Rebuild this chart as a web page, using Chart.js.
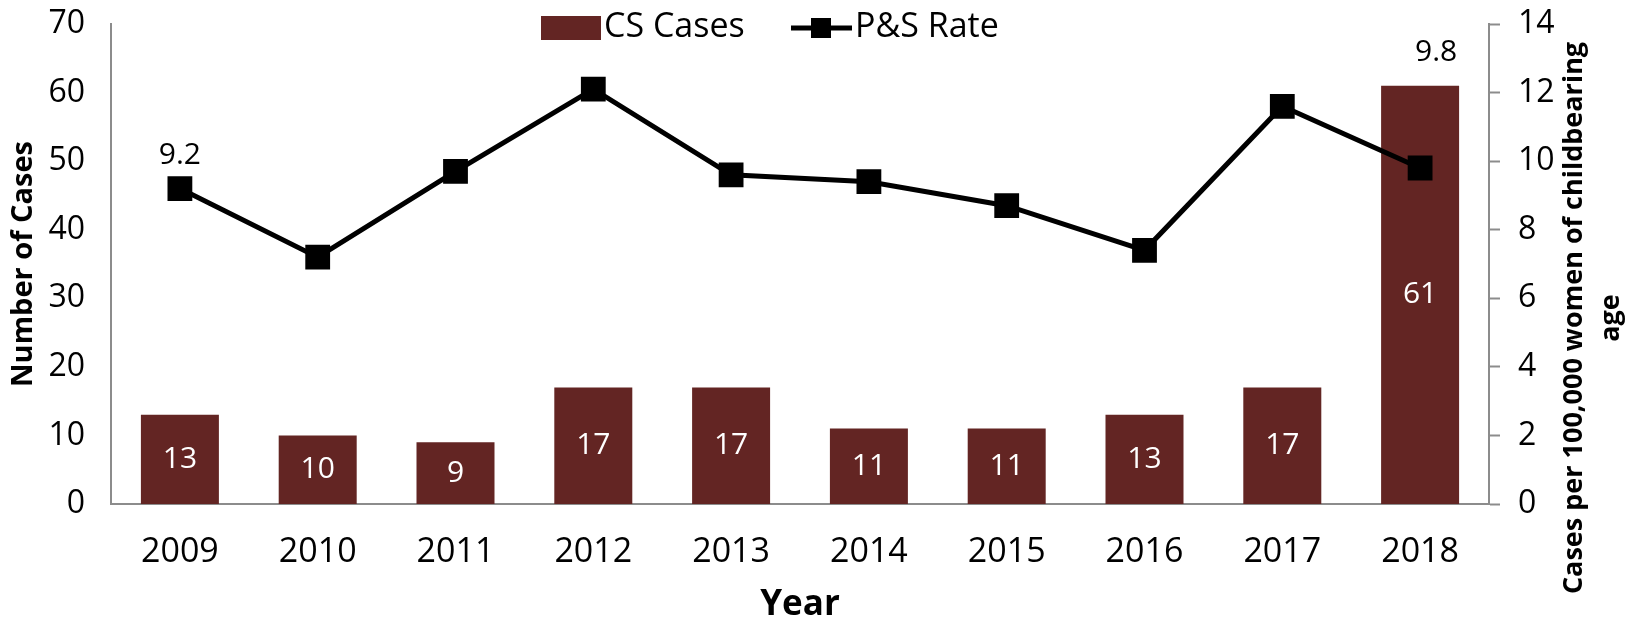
<!DOCTYPE html>
<html lang="en">
<head>
  <meta charset="UTF-8">
  <title>CS Cases and P&amp;S Rate</title>
  <script src="https://cdn.jsdelivr.net/npm/chart.js"></script>
  <style>
    body { margin: 0; background: #fff; }
    canvas { display: block; }
  </style>
</head>
<body>
  <canvas id="chartCanvas" width="1625" height="624"></canvas>

  <script>
    const years = ["2009", "2010", "2011", "2012", "2013", "2014", "2015", "2016", "2017", "2018"];
    const csCases = [13, 10, 9, 17, 17, 11, 11, 13, 17, 61];
    const psRate = [9.2, 7.2, 9.7, 12.1, 9.6, 9.4, 8.7, 7.4, 11.6, 9.8];
    const rateLabelShown = [0, 9]; // only first and last rate values are labelled
    const rightTitle = ["Cases per 100,000 women of childbearing", "age"];

    const FONT = "'Open Sans', sans-serif";
    const AXIS = "#8c8c8c";
    const BAR = "#632523";

    // values inside bars, and the two rate labels
    const labelPlugin = {
      id: "valueLabels",
      afterDatasetsDraw(chart) {
        const ctx = chart.ctx;
        const bars = chart.getDatasetMeta(0).data;
        const pts = chart.getDatasetMeta(1).data;
        ctx.save();
        ctx.font = "30px " + FONT;
        ctx.textAlign = "center";
        ctx.textBaseline = "middle";
        ctx.fillStyle = "#fff";
        bars.forEach((b, i) => {
          ctx.fillText(csCases[i], b.x, (b.y + b.base) / 2);
        });
        ctx.fillStyle = "#000";
        rateLabelShown.forEach(i => {
          const top = Math.min(pts[i].y, bars[i].y);
          ctx.fillText(psRate[i].toFixed(1), pts[i].x + (i === 9 ? 16 : 0), top - 33);
        });
        ctx.restore();
      },
      afterDraw(chart) {
        const ctx = chart.ctx;
        ctx.save();
        // right axis title, reading upward
        ctx.font = "bold 27px " + FONT;
        ctx.fillStyle = "#000";
        ctx.textAlign = "center";
        ctx.textBaseline = "middle";
        ctx.translate(1574, 318);
        ctx.rotate(-Math.PI / 2);
        ctx.fillText(rightTitle[0], 0, 0);
        ctx.fillText(rightTitle[1], 0, 37);
        ctx.restore();

        // legend
        ctx.save();
        ctx.font = "34px " + FONT;
        ctx.textBaseline = "middle";
        ctx.fillStyle = BAR;
        ctx.fillRect(541, 16, 60, 24);
        ctx.fillStyle = "#000";
        ctx.fillText(chart.data.datasets[0].label, 604, 27);
        ctx.strokeStyle = "#000";
        ctx.lineWidth = 5;
        ctx.beginPath();
        ctx.moveTo(791, 28);
        ctx.lineTo(852, 28);
        ctx.stroke();
        ctx.fillRect(811, 18, 20, 20);
        ctx.fillText(chart.data.datasets[1].label, 855, 27);
        ctx.restore();
      }
    };

    new Chart(document.getElementById("chartCanvas"), {
      data: {
        labels: years,
        datasets: [
          {
            type: "bar", label: "CS Cases", data: csCases, yAxisID: "y",
            backgroundColor: BAR, categoryPercentage: 1, barPercentage: 0.566, order: 1
          },
          {
            type: "line", label: "P&S Rate", data: psRate, yAxisID: "y1",
            borderColor: "#000", backgroundColor: "#000", borderWidth: 5,
            pointStyle: "rect", pointRadius: 14, pointHoverRadius: 14, order: 0
          }
        ]
      },
      options: {
        responsive: false,
        animation: false,
        devicePixelRatio: 1,
        layout: { padding: { top: 24, left: 0, right: 0, bottom: 0 } },
        plugins: { legend: { display: false }, tooltip: { enabled: false } },
        scales: {
          x: {
            grid: { display: false, drawTicks: false },
            border: { display: true, color: AXIS, width: 2 },
            ticks: { color: "#000", font: { family: FONT, size: 34 }, padding: 28 },
            title: { display: true, text: "Year", color: "#000",
                     font: { family: FONT, size: 35, weight: "bold", lineHeight: 1 }, padding: { top: 0, bottom: 1 } },
            afterFit(s) { s.height = 120; }
          },
          y: {
            position: "left", min: 0, max: 70,
            grid: { display: false, drawTicks: false },
            border: { display: true, color: AXIS, width: 2 },
            ticks: { stepSize: 10, color: "#000", font: { family: FONT, size: 32 }, padding: 26 },
            title: { display: true, text: "Number of Cases", color: "#000",
                     font: { family: FONT, size: 29, weight: "bold" }, padding: { top: 6, bottom: 0 } },
            afterFit(s) { s.width = 111; s.paddingTop = 0; s.paddingBottom = 0; }
          },
          y1: {
            position: "right", min: 0, max: 14,
            grid: { display: true, drawOnChartArea: false, drawTicks: true, tickLength: 11,
                    tickColor: AXIS, tickWidth: 2, color: AXIS },
            border: { display: true, color: AXIS, width: 2 },
            ticks: { stepSize: 2, color: "#000", font: { family: FONT, size: 32 }, padding: 18 },
            afterFit(s) { s.width = 136; s.paddingTop = 0; s.paddingBottom = 0; }
          }
        }
      },
      plugins: [labelPlugin]
    });
  </script>
</body>
</html>
